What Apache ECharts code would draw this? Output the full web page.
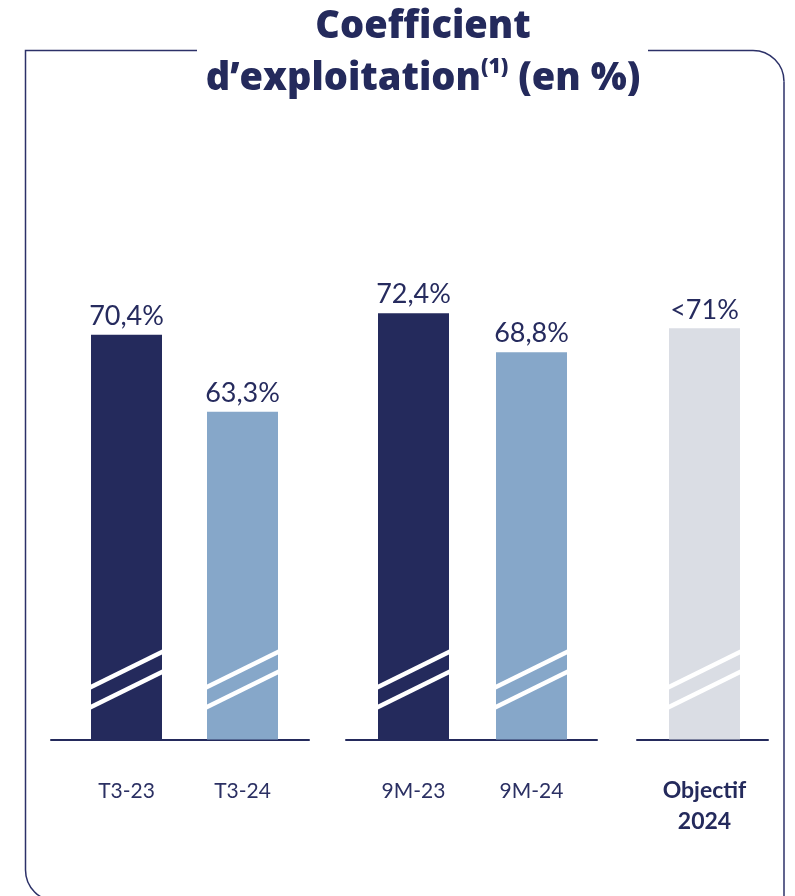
<!DOCTYPE html>
<html>
<head>
<meta charset="utf-8">
<style>
  html, body { margin: 0; padding: 0; background: #ffffff; }
  #chart { width: 795px; height: 896px; }
</style>
<script src="https://cdn.jsdelivr.net/npm/echarts@6/dist/echarts.min.js"></script>
</head>
<body>
<div id="chart"></div>
<script>
// Operating ratio (%) — quarter, nine months, and full-year target
const categories = ['T3-23', 'T3-24', '9M-23', '9M-24', 'Objectif\n2024'];
const values = [70.4, 63.3, 72.4, 68.8, 71];
const valuePrefix = ['', '', '', '', '<'];
const groups = [[0, 1], [2, 3], [4]];
const targetIndex = 4;

// Styling
const NAVY = '#242a5c';
const FRAME = '#2c3168';
const barColors = ['#242a5c', '#86a7c9', '#242a5c', '#86a7c9', '#dadde4'];
const FONT = 'Lato, "Noto Sans", sans-serif';
const TITLE_FONT = '"Open Sans", "Noto Sans", sans-serif';
const BAR_W = 71;
const Y_MIN = 33, Y_MAX = 80;

// Horizontal layout of each group: axis start, axis end, first bar centre, px per slot
const groupLayout = [
  { x0: 51,  x1: 309, c0: 126.5, step: 116 },
  { x0: 346, x1: 597, c0: 413.5, step: 118 },
  { x0: 637, x1: 768, c0: 704.5, step: 118 }
];
const GRID_TOP = 231, BASELINE = 739.5, CANVAS_H = 896;

function fmtValue(i) {
  return valuePrefix[i] + String(values[i]).replace('.', ',') + '%';
}

const grids = [], xAxes = [], yAxes = [], series = [];

groups.forEach(function (idxs, g) {
  const L = groupLayout[g];
  grids.push({
    left: L.x0, width: L.x1 - L.x0,
    top: GRID_TOP, bottom: CANVAS_H - BASELINE,
    containLabel: false
  });
  xAxes.push({
    gridIndex: g,
    type: 'value',
    min: -(L.c0 - L.x0) / L.step,
    max: (L.x1 - L.c0) / L.step,
    splitLine: { show: false },
    axisTick: { show: false },
    axisLine: { show: true, onZero: false, lineStyle: { color: NAVY, width: 2 } },
    axisLabel: {
      customValues: idxs.map(function (_, k) { return k; }),
      margin: 36,
      fontFamily: FONT,
      fontSize: 21,
      color: '#2b3063',
      lineHeight: 31,
      formatter: function (v) {
        const i = idxs[Math.round(v)];
        if (i === undefined) return '';
        if (i === targetIndex) {
          return categories[i].split('\n').map(function (s) { return '{b|' + s + '}'; }).join('\n');
        }
        return categories[i];
      },
      rich: {
        b: { fontFamily: FONT, fontSize: 23, fontWeight: 'bold', color: NAVY, lineHeight: 31 }
      }
    }
  });
  yAxes.push({
    gridIndex: g,
    type: 'value',
    min: Y_MIN, max: Y_MAX,
    show: false,
    splitLine: { show: false }
  });

  const barData = idxs.map(function (i, k) {
    return {
      value: [k, values[i]],
      itemStyle: { color: barColors[i] },
      label: { formatter: fmtValue(i) }
    };
  });

  series.push({
    type: 'bar',
    xAxisIndex: g, yAxisIndex: g,
    barWidth: BAR_W,
    data: barData,
    label: {
      show: true,
      position: 'top',
      distance: 5,
      fontFamily: FONT,
      fontSize: 27,
      color: '#262b5e'
    },
    silent: true,
    animation: false
  });

  // Axis-break stripes across the foot of every bar
  series.push({
    type: 'custom',
    xAxisIndex: g, yAxisIndex: g,
    data: idxs.map(function (i, k) { return [k, values[i]]; }),
    z: 5,
    silent: true,
    animation: false,
    renderItem: function (params, api) {
      const base = api.coord([api.value(0), Y_MIN]);
      const l = base[0] - BAR_W / 2, r = base[0] + BAR_W / 2, b = base[1];
      function stripe(offL, offR) {
        return {
          type: 'polygon',
          shape: { points: [[l, b - offL - 2.5], [r, b - offR - 2.5], [r, b - offR + 2.5], [l, b - offL + 2.5]] },
          style: { fill: '#ffffff' }
        };
      }
      return { type: 'group', children: [stripe(52.5, 87.5), stripe(32.5, 67.5)] };
    }
  });
});

const frameStyle = { fill: null, stroke: FRAME, lineWidth: 1.5 };

const chart = echarts.init(document.getElementById('chart'), null, { renderer: 'canvas' });
chart.setOption({
  backgroundColor: '#ffffff',
  animation: false,
  grid: grids,
  xAxis: xAxes,
  yAxis: yAxes,
  series: series,
  graphic: [
    // Card outline, open at the top where the heading sits
    { type: 'polyline', silent: true, shape: { points: [[197, 50.5], [25.5, 50.5], [25.5, 870]] }, style: frameStyle },
    { type: 'arc', silent: true, shape: { cx: 56.5, cy: 870, r: 31, startAngle: Math.PI / 2, endAngle: Math.PI, clockwise: true }, style: frameStyle },
    { type: 'line', silent: true, shape: { x1: 648, y1: 50.5, x2: 753, y2: 50.5 }, style: frameStyle },
    { type: 'arc', silent: true, shape: { cx: 753, cy: 81.5, r: 31, startAngle: -Math.PI / 2, endAngle: 0, clockwise: true }, style: frameStyle },
    { type: 'line', silent: true, shape: { x1: 784, y1: 81.5, x2: 784, y2: 901 }, style: frameStyle },
    {
      type: 'text',
      silent: true,
      x: 423, y: 1,
      style: {
        // zero-width non-joiners keep "ffi" as separate letters
        text: 'Coef\u200Cf\u200Cicient\nd\u2019exploitation{sup|(1)} (en %)',
        align: 'center',
        verticalAlign: 'top',
        fontFamily: TITLE_FONT,
        fontSize: 38,
        fontWeight: 800,
        lineHeight: 52,
        fill: NAVY,
        rich: {
          sup: { fontFamily: TITLE_FONT, fontSize: 21, fontWeight: 800, fill: NAVY, verticalAlign: 'top', lineHeight: 52, padding: [4, 0, 0, 0] }
        }
      }
    }
  ]
});
</script>
</body>
</html>
